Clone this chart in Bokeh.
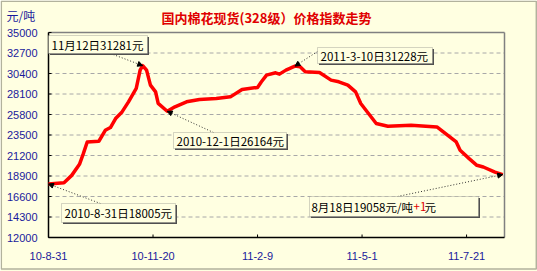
import pandas as pd
from bokeh.plotting import figure
from bokeh.models import Range1d, Label, BoxAnnotation, Arrow, NormalHead
from bokeh.core.properties import value
from bokeh.embed import file_html
from bokeh.resources import INLINE

# ---- data ----
dates = ["2010-08-31", "2010-09-12", "2010-09-18", "2010-09-24", "2010-09-27", "2010-09-30",
         "2010-10-09", "2010-10-14", "2010-10-18", "2010-10-22", "2010-10-27", "2010-11-01",
         "2010-11-07", "2010-11-10", "2010-11-12", "2010-11-15", "2010-11-18", "2010-11-22",
         "2010-11-24", "2010-12-01", "2010-12-07", "2010-12-16", "2010-12-26", "2011-01-08",
         "2011-01-19", "2011-01-28", "2011-02-09", "2011-02-12", "2011-02-16", "2011-02-23",
         "2011-02-26", "2011-03-03", "2011-03-10", "2011-03-14", "2011-03-18", "2011-03-29",
         "2011-04-07", "2011-04-13", "2011-04-20", "2011-04-26", "2011-04-30", "2011-05-06",
         "2011-05-12", "2011-05-21", "2011-06-08", "2011-06-28", "2011-07-08", "2011-07-13",
         "2011-07-16", "2011-07-23", "2011-07-29", "2011-08-03", "2011-08-12", "2011-08-18"]
prices = [18005, 18150, 18970, 20210, 21410, 22720,
          22800, 24030, 24340, 25350, 26090, 27220,
          28720, 30780, 31281, 30780, 29100, 28340,
          27040, 26164, 26660, 27220, 27490, 27600,
          27780, 28610, 28840, 29470, 30220, 30480,
          30330, 30780, 31228, 31150, 30590, 30520,
          29660, 29470, 29100, 28340, 27040, 25910,
          24790, 24480, 24600, 24410, 23280, 22720,
          21790, 20850, 20100, 19910, 19340, 19058]

tick_dates = ["2010-08-31", "2010-11-20", "2011-02-09", "2011-05-01", "2011-07-21"]
tick_labels = ["10-8-31", "10-11-20", "11-2-9", "11-5-1", "11-7-21"]
y_ticks = [12000, 14300, 16600, 18900, 21200, 23500, 25800, 28100, 30400, 32700, 35000]

title_text = "国内棉花现货(328级）价格指数走势"
unit_text = "元/吨"
ann_texts = ["11月12日31281元", "2010-12-1日26164元", "2011-3-10日31228元", "2010-8-31日18005元"]
ann_targets = [("2010-11-12", 31281), ("2010-12-01", 26164), ("2011-03-10", 31228), ("2010-08-31", 18005)]
last_text = ["8月18日19058元/吨", "+1", "元"]

# ---- geometry helpers (pixel -> data) ----
W, H = 537, 271
FL, FR, FT, FB = 48, 504, 32, 237
YMIN, YMAX = y_ticks[0], y_ticks[-1]
origin = pd.Timestamp(dates[0])
day = lambda d: (pd.Timestamp(d) - origin).days
XMAX = 353.4
PX_PER_DAY = (FR - FL) / XMAX
def dx(px):
    return (px - FL) / PX_PER_DAY
def vy(py):
    return YMIN + (FB - py) * (YMAX - YMIN) / (FB - FT)

xs = [day(d) for d in dates]
tick_x = [day(d) for d in tick_dates]

# the frame covers the whole canvas so that titles/labels in the margins are not clipped
p = figure(width=W, height=H, output_backend="svg", toolbar_location=None,
           x_range=Range1d(dx(0), dx(W)), y_range=Range1d(vy(H), vy(0)),
           x_axis_location=None, y_axis_location=None, min_border=0)
bg = "#FFFFE1"
p.background_fill_color = bg
p.border_fill_color = bg
p.outline_line_color = None
p.grid.grid_line_color = None

BLUE = "#1A1A9C"
# gridlines
p.segment(x0=[0] * (len(y_ticks) - 2), x1=[XMAX] * (len(y_ticks) - 2), y0=y_ticks[1:-1], y1=y_ticks[1:-1],
          line_color="#A8A8A8", line_dash="4 3", line_width=1)
# plot outline (top and right, gray)
p.segment(x0=[0, XMAX], x1=[XMAX, XMAX], y0=[YMAX, YMAX], y1=[YMAX, YMIN],
          line_color="#808080", line_width=1.5)
# axis lines
p.segment(x0=[0, 0], x1=[0, XMAX], y0=[YMIN, YMIN], y1=[YMAX, YMIN], line_color="black", line_width=1.5)
# tick marks
p.segment(x0=[0] * len(y_ticks), x1=[dx(FL + 3)] * len(y_ticks), y0=y_ticks, y1=y_ticks,
          line_color="black", line_width=1)
p.segment(x0=tick_x, x1=tick_x, y0=[YMIN] * len(tick_x), y1=[vy(FB - 3)] * len(tick_x),
          line_color="black", line_width=1)
# tick labels
p.text(x=[dx(37)] * len(y_ticks), y=y_ticks, text=[str(v) for v in y_ticks],
       text_align="right", text_baseline="middle", text_color=BLUE,
       text_font=value("Liberation Sans"), text_font_size=value("11px"))
p.text(x=tick_x, y=[vy(255)] * len(tick_x), text=tick_labels,
       text_align="center", text_baseline="middle", text_color=BLUE,
       text_font=value("Liberation Sans"), text_font_size=value("11px"))

# data line
p.line(xs, prices, line_color="#FF0000", line_width=3.5, line_join="round")

# title and unit
p.add_layout(Label(x=dx(266), y=vy(17), text=title_text,
                   text_align="center", text_baseline="middle", text_color="#E00000",
                   text_font_style="bold", text_font="Noto Sans CJK SC", text_font_size="13px"))
p.add_layout(Label(x=dx(6), y=vy(15), text=unit_text,
                   text_align="left", text_baseline="middle", text_color=BLUE,
                   text_font="Noto Sans CJK SC", text_font_size="12px"))

# outer frame
p.add_layout(BoxAnnotation(left=dx(0.8), right=dx(535.8), top=vy(0.8), bottom=vy(268.5),
                           fill_alpha=0, line_color="black", line_width=1.5))

# annotation boxes (pixel rects) and arrows (pixel start -> data point)
boxes = [(48, 35, 147, 53), (173, 132, 286, 148), (317, 47, 432, 63), (61, 203, 175, 222)]
starts = [(110, 53), (213, 132), (317, 51), (100, 203)]

def draw_box(l, t, r, b):
    p.add_layout(BoxAnnotation(left=dx(l + 1.5), right=dx(r + 1.5), top=vy(t + 1.5), bottom=vy(b + 1.5),
                               fill_color="#505050", fill_alpha=1, line_color=None))
    p.add_layout(BoxAnnotation(left=dx(l), right=dx(r), top=vy(t), bottom=vy(b),
                               fill_color=bg, fill_alpha=1, line_color="#707070", line_width=1))

def draw_arrow(s, tgt):
    p.add_layout(Arrow(x_start=dx(s[0]), y_start=vy(s[1]), x_end=day(tgt[0]), y_end=tgt[1],
                       line_color="#303030", line_width=1, line_dash="1 2",
                       end=NormalHead(size=5, fill_color="black", line_color="black")))

for (l, t, r, b), s, tgt, txt in zip(boxes, starts, ann_targets, ann_texts):
    draw_arrow(s, tgt)
    draw_box(l, t, r, b)
    p.add_layout(Label(x=dx(l + 3), y=vy((t + b) / 2), text=txt, text_align="left",
                       text_baseline="middle", text_color="black",
                       text_font="Noto Sans CJK SC", text_font_size="11.5px"))

# last-value annotation
draw_arrow((397, 196), (dates[-1], prices[-1]))
draw_box(309, 196, 478, 216)
for txt, px, col, al in zip(last_text, [412.5, 413, 424], ["black", "#E00000", "black"],
                            ["right", "left", "left"]):
    p.add_layout(Label(x=dx(px), y=vy(206), text=txt, text_align=al,
                       text_baseline="middle", text_color=col,
                       text_font="Noto Sans CJK SC", text_font_size="11.5px"))

open("out.html", "w").write(file_html(p, INLINE))
